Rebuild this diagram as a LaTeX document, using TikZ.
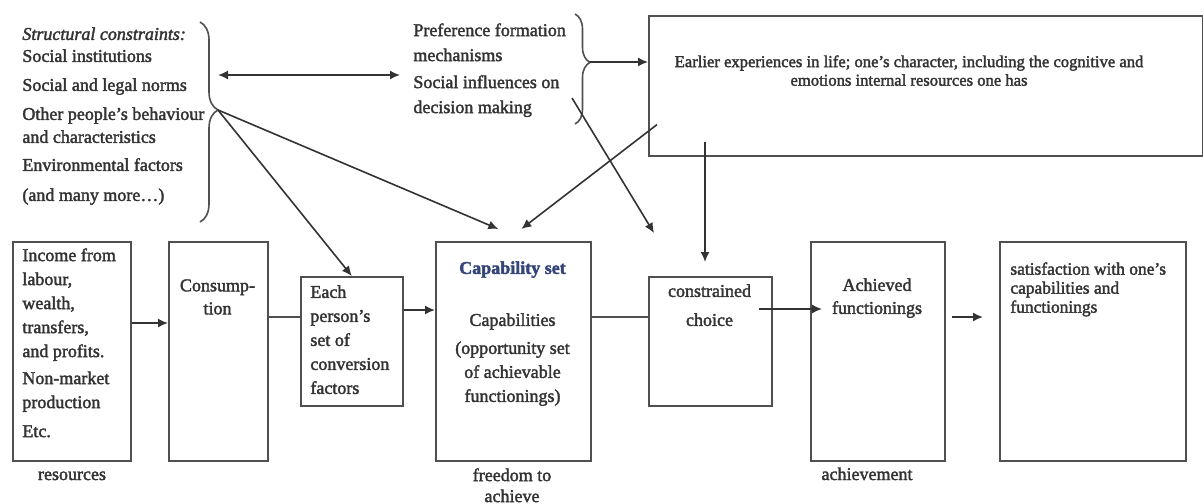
\documentclass[tikz,border=0pt]{standalone}
\usepackage{fontspec}
\setmainfont{Liberation Serif}[FakeBold=2]
\usepackage{xcolor}
\usepackage{tikz}
\usetikzlibrary{arrows.meta, positioning, calc, decorations.pathreplacing}
\definecolor{trait}{HTML}{505050}
\definecolor{encre}{HTML}{333333}
\definecolor{titrebleu}{HTML}{34457A}
\tikzset{
  boite/.style={rectangle, draw=trait, line width=0.8pt, fill=white,
    anchor=north west, inner sep=0pt},
  texte/.style={text=encre, inner sep=0pt, font=\fontsize{9}{12}\selectfont},
  textegauche/.style={texte, align=left, anchor=north west},
  textecentre/.style={texte, align=center, anchor=north},
  etiquette/.style={texte, align=center, anchor=base},
  fleche/.style={-{Latex[length=5pt, width=4.5pt]}, line width=0.8pt, color=encre},
  flechedouble/.style={{Latex[length=5pt, width=4.5pt]}-{Latex[length=5pt, width=4.5pt]},
    line width=0.8pt, color=encre},
  lien/.style={line width=0.8pt, color=trait},
  accolade/.style={decorate, decoration={brace, aspect=0.44, amplitude=#1},
    line width=0.8pt, color=trait}
}

\begin{document}
\begin{tikzpicture}[x=0.5pt, y=-0.5pt]
  \useasboundingbox (0,0) rectangle (1203,503);

  \node[textegauche, font=\fontsize{9}{11}\selectfont] (contraintes) at (22,27) {
    \textit{Structural constraints:}\\
    Social institutions\\[3.5pt]
    Social and legal norms\\[3.5pt]
    Other people's behaviour\\[0.5pt]
    and characteristics\\[3pt]
    Environmental factors\\[4pt]
    (and many more…)
  };
  \draw[accolade=9pt] (200,22) -- (200,222);
  \coordinate (accG) at (218,110);

  \node[textegauche, font=\fontsize{9}{12.5}\selectfont] (pref) at (413,23) {
    Preference formation\\
    mechanisms\\[1pt]
    Social influences on\\
    decision making
  };
  \draw[accolade=7.5pt] (575,14) -- (575,124);
  \coordinate (accD) at (590,62);

  \node[boite, minimum width=277pt, minimum height=70pt] (exp) at (648,15) {};
  \node[textecentre, font=\fontsize{8.3}{9.3}\selectfont] (exptexte) at (909,55) {
    Earlier experiences in life; one's character, including the cognitive and\\
    emotions internal resources one has
  };

  \node[boite, minimum width=59pt, minimum height=109.5pt] (res) at (12,241) {};
  \node[textegauche] (restexte) at (22,248) {
    Income from\\
    labour,\\
    wealth,\\
    transfers,\\
    and profits.\\[1.5pt]
    Non-market\\
    production\\[2.5pt]
    Etc.
  };

  \node[boite, minimum width=49.5pt, minimum height=109.5pt] (cons) at (168,241) {};
  \node[textecentre, font=\fontsize{9}{11.5}\selectfont] (constexte) at (217.5,279) {
    Consump-\\
    tion
  };

  \node[boite, minimum width=51pt, minimum height=64.5pt] (pers) at (300,276) {};
  \node[textegauche] (perstexte) at (310,285) {
    Each\\
    person's\\
    set of\\
    conversion\\
    factors
  };

  \node[boite, minimum width=77.5pt, minimum height=109.5pt] (capa) at (435,241) {};
  \node[textecentre] (capatexte) at (512.5,261) {
    {\bfseries\color{titrebleu}Capability set}\\[14pt]
    Capabilities\\[2pt]
    (opportunity set\\
    of achievable\\
    functionings)
  };

  \node[boite, minimum width=61.5pt, minimum height=64.5pt] (choix) at (648,276) {};
  \node[textecentre, font=\fontsize{9}{14.5}\selectfont] (choixtexte) at (709.5,284) {
    constrained\\
    choice
  };

  \node[boite, minimum width=67pt, minimum height=109.5pt] (acquis) at (810,241) {};
  \node[textecentre, font=\fontsize{9}{11.5}\selectfont] (acquistexte) at (877,278) {
    Achieved\\
    functionings
  };

  \node[boite, minimum width=93pt, minimum height=109.5pt] (satis) at (999,241) {};
  \node[textegauche, font=\fontsize{8.7}{9.5}\selectfont] (satistexte) at (1010,262) {
    satisfaction with one's\\
    capabilities and\\
    functionings
  };

  \node[etiquette] (lres) at (72,480) {resources};
  \node[etiquette, anchor=north, font=\fontsize{9}{10.5}\selectfont] (lcapa) at (512,468) {freedom to\\achieve};
  \node[etiquette] (lacquis) at (867,480) {achievement};

  \draw[flechedouble] (accG |- 0,75) -- ($(pref.west |- 0,75)+(-13,0)$);
  \draw[fleche] (accG) -- (pers.north);
  \draw[fleche] (accG) -- ($(capa.north)+(-15,-12)$);
  \draw[fleche] (accD) -- (exp.west |- accD);
  \draw[fleche] ($(exp.south west)+(9,-32)$) -- ($(capa.north)+(8,-12)$);
  \draw[fleche] (572,98) -- ($(choix.north west)+(6,-43)$);
  \draw[fleche] ($(exp.south west)+(57,-15)$) -- ($(choix.north west)+(57,-14)$);

  \draw[fleche] (res.east |- 0,323) -- (cons.west |- 0,323);
  \draw[lien] (cons.east |- 0,317) -- (pers.west |- 0,317);
  \draw[fleche] (pers.east |- 0,310) -- (capa.west |- 0,310);
  \draw[lien] (capa.east |- 0,317) -- (choix.west |- 0,317);
  \draw[fleche] ($(choix.east |- 0,309)+(-14,0)$) -- ($(acquis.west |- 0,309)+(12,0)$);
  \draw[fleche] ($(acquis.east |- 0,317)+(6,0)$) -- ($(satis.west |- 0,317)+(-16,0)$);
\end{tikzpicture}
\end{document}
